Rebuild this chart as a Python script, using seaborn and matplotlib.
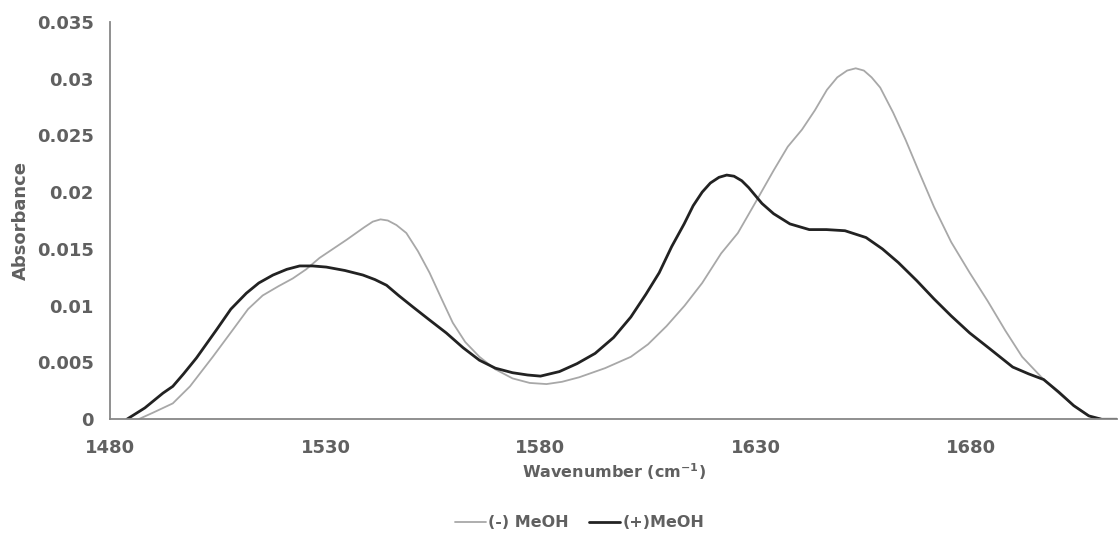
import matplotlib
matplotlib.use("Agg")
import matplotlib.pyplot as plt
import seaborn as sns
import pandas as pd

# ---- data ----
wn_minus = [1486.5, 1490, 1494.5, 1498.5, 1503.8, 1508.5, 1512, 1515.4, 1519, 1522.4,
            1525.5, 1528.6, 1534.9, 1539, 1541, 1542.8, 1544.5, 1546.5, 1548.8, 1551.5,
            1554.2, 1557, 1559.6, 1562.5, 1565.8, 1569.5, 1573.5, 1577.5, 1581.4, 1585,
            1589, 1595, 1601, 1605, 1609.3, 1613.5, 1617.6, 1622, 1625.9, 1630, 1634.2,
            1637.5, 1640.8, 1643.8, 1646.6, 1649, 1651.3, 1653.3, 1655.2, 1657, 1659,
            1662, 1664.9, 1668, 1671.5, 1675.5, 1679.8, 1684, 1688.1, 1692, 1696.5,
            1700.5, 1704, 1708, 1711]
abs_minus = [0, 0.0006, 0.0014, 0.0029, 0.0055, 0.0079, 0.0097, 0.0109, 0.0117, 0.0124,
             0.0132, 0.0142, 0.0158, 0.0169, 0.0174, 0.0176, 0.0175, 0.0171, 0.0164, 0.0148,
             0.0129, 0.0106, 0.0085, 0.0068, 0.0055, 0.0044, 0.0036, 0.0032, 0.0031, 0.0033,
             0.0037, 0.0045, 0.0055, 0.0066, 0.0082, 0.0100, 0.0120, 0.0146, 0.0164, 0.0191, 0.0219,
             0.0240, 0.0255, 0.0272, 0.0290, 0.0301, 0.0307, 0.0309, 0.0307, 0.0301, 0.0292,
             0.0270, 0.0246, 0.0218, 0.0187, 0.0156, 0.0129, 0.0104, 0.0078, 0.0055, 0.0037,
             0.0023, 0.0012, 0.0002, 0]

wn_plus = [1483.8, 1488, 1492.2, 1494.5, 1497, 1500, 1504.7, 1508, 1511.6, 1514.5,
           1517.8, 1521, 1524, 1527, 1530.2, 1534.5, 1538.7, 1541.5, 1544.2, 1547,
           1550.3, 1554, 1558.1, 1562, 1565.8, 1569.5, 1573.5, 1577, 1580, 1584.4,
           1588.5, 1592.7, 1597, 1601, 1604.5, 1607.6, 1610.5, 1613.4, 1615.5, 1617.6,
           1619.5, 1621.5, 1623.3, 1625, 1626.8, 1628.4, 1631.5, 1634.2, 1638, 1642.5,
           1646.5, 1650.8, 1655.7, 1659.5, 1663.2, 1667.5, 1671.5, 1675.5, 1679.8, 1684.5,
           1689.8, 1693.5, 1697, 1700.5, 1704, 1707.5, 1710.5, 1716]
abs_plus = [0, 0.0010, 0.0023, 0.0029, 0.0040, 0.0054, 0.0079, 0.0097, 0.0111, 0.0120,
            0.0127, 0.0132, 0.0135, 0.0135, 0.0134, 0.0131, 0.0127, 0.0123, 0.0118, 0.0109,
            0.0099, 0.0088, 0.0076, 0.0063, 0.0052, 0.0045, 0.0041, 0.0039, 0.0038, 0.0042,
            0.0049, 0.0058, 0.0072, 0.0090, 0.0110, 0.0129, 0.0152, 0.0172, 0.0188, 0.0200,
            0.0208, 0.0213, 0.0215, 0.0214, 0.0210, 0.0204, 0.0190, 0.0181, 0.0172, 0.0167,
            0.0167, 0.0166, 0.0160, 0.0150, 0.0138, 0.0122, 0.0106, 0.0091, 0.0076, 0.0062,
            0.0046, 0.0040, 0.0035, 0.0024, 0.0012, 0.0003, 0, 0]

series_labels = ["(-) MeOH", "(+)MeOH"]
x_ticks = [1480, 1530, 1580, 1630, 1680]
y_ticks = [0, 0.005, 0.01, 0.015, 0.02, 0.025, 0.03, 0.035]
y_tick_labels = ["0", "0.005", "0.01", "0.015", "0.02", "0.025", "0.03", "0.035"]
x_label = "Wavenumber (cm$^{-1}$)"
y_label = "Absorbance"

# ---- style ----
sns.set_style("white")
plt.rcParams["font.family"] = ["DejaVu Sans"]
plt.rcParams["mathtext.fontset"] = "dejavusans"
plt.rcParams["mathtext.default"] = "bf"

text_col = "#606060"
axis_col = "#878787"

fig = plt.figure(figsize=(11.19, 5.39), dpi=100)
ax = fig.add_axes([0.0987, 0.2221, 0.8993, 0.7376])

df_minus = pd.DataFrame({"x": wn_minus, "y": abs_minus})
df_plus = pd.DataFrame({"x": wn_plus, "y": abs_plus})
sns.lineplot(data=df_minus, x="x", y="y", ax=ax, color="#A8A8A8", linewidth=1.3,
             label=series_labels[0], sort=False)
sns.lineplot(data=df_plus, x="x", y="y", ax=ax, color="#222222", linewidth=2.0,
             label=series_labels[1], sort=False)

ax.set_xlim(1480, 1714)
ax.set_ylim(0, 0.035)
ax.set_xticks(x_ticks)
ax.set_xticklabels([str(v) for v in x_ticks])
ax.set_yticks(y_ticks)
ax.set_yticklabels(y_tick_labels)

for s in ["top", "right"]:
    ax.spines[s].set_visible(False)
for s in ["left", "bottom"]:
    ax.spines[s].set_color(axis_col)
    ax.spines[s].set_linewidth(1.3)
ax.tick_params(axis="both", direction="out", length=7, width=1.3, color=axis_col,
               labelcolor=text_col, labelsize=13)
ax.tick_params(axis="y", pad=5)
ax.tick_params(axis="x", pad=7)
for t in ax.get_xticklabels() + ax.get_yticklabels():
    t.set_fontweight("bold")

ax.set_xlabel(x_label, fontsize=11.5, fontweight="bold", color=text_col, labelpad=3)
ax.set_ylabel(y_label, fontsize=13, fontweight="bold", color=text_col, labelpad=5)

handles, labels = ax.get_legend_handles_labels()
ax.get_legend().remove()
leg = fig.legend(handles, labels, loc="center", bbox_to_anchor=(0.518, 0.03), ncol=2,
                 frameon=False, handlelength=1.9, handletextpad=0.15, columnspacing=1.3,
                 prop={"weight": "bold", "size": 11.5})
for t in leg.get_texts():
    t.set_color(text_col)

fig.savefig("out.png", dpi=100)
